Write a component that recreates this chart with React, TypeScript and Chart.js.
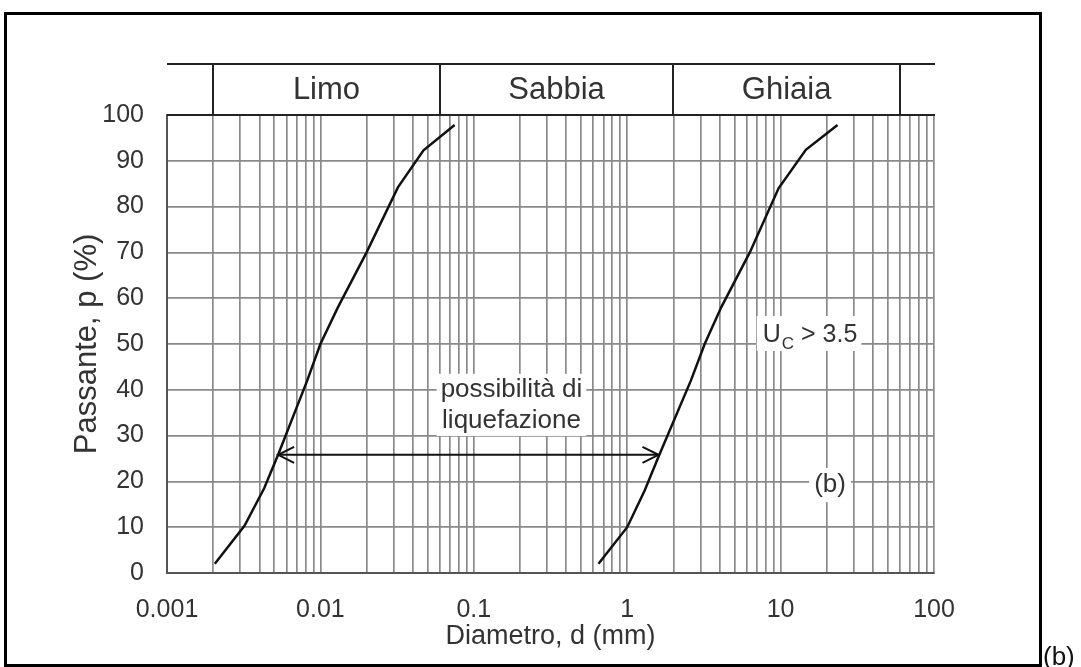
import React, { useEffect, useRef } from 'react';
import { Chart, registerables } from 'chart.js';

Chart.register(...registerables);

const FONT = '"Liberation Sans", Arial, Helvetica, sans-serif';

// ---- axes ----
const xDecades = [0.001, 0.01, 0.1, 1, 10, 100];
const xDecadeLabels = ['0.001', '0.01', '0.1', '1', '10', '100'];
const xMinorSteps = [1, 2, 3, 4, 5, 6, 7, 8, 9];
const yMin = 0;
const yMax = 100;
const yStep = 10;

// ---- grading curves (diameter mm, passing %) ----
const fineDiam = [0.00205, 0.0032, 0.0043, 0.0053, 0.0082, 0.01, 0.013, 0.02, 0.032, 0.047, 0.075];
const finePass = [2, 10.3, 18.5, 25.8, 42, 50, 58, 70, 84.2, 92.3, 97.8];
const coarseDiam = [0.65, 1.0, 1.3, 1.6, 2.6, 3.2, 4.1, 6.3, 9.7, 14.6, 23.5];
const coarsePass = [2, 10, 18, 25.4, 42, 50, 58, 70, 84, 92.4, 97.8];

// ---- liquefaction arrow ----
const arrowDiam = [0.0053, 1.6];
const arrowPass = [25.8, 25.8];

// ---- soil classes band ----
const classBounds = [0.002, 0.06, 2, 60];
const classNames = ['Limo', 'Sabbia', 'Ghiaia'];

// ---- annotations ----
const noteLines = ['possibilità di', 'liquefazione'];
const noteDiam = 0.176;
const notePass = [40, 33.2];
const ucDiam = 7.65;
const ucPass = 52.4;
const bLabelDiam = 21;
const bLabelPass = 19.2;

const gridValues: number[] = [];
xDecades.forEach((d, i) => {
  if (i < xDecades.length - 1) xMinorSteps.forEach((m) => gridValues.push(+(d * m).toPrecision(6)));
  else gridValues.push(d);
});

const toPts = (xs: number[], ys: number[]) => xs.map((x, i) => ({ x, y: ys[i] }));

const decorPlugin = {
  id: 'decor',
  beforeDatasetsDraw(chart: any) {
    const { ctx, scales } = chart;
    const xs = scales.x;
    const ys = scales.y;
    ctx.save();
    // note "possibilità di liquefazione"
    ctx.font = `26px ${FONT}`;
    const nx = xs.getPixelForValue(noteDiam);
    const ny = notePass.map((p) => ys.getPixelForValue(p));
    const nw = Math.max(...noteLines.map((t) => ctx.measureText(t).width));
    ctx.fillStyle = '#fff';
    ctx.fillRect(nx - nw / 2 - 4, ny[0] - 16, nw + 8, ny[ny.length - 1] - ny[0] + 31);
    ctx.fillStyle = '#333';
    ctx.textAlign = 'center';
    ctx.textBaseline = 'middle';
    noteLines.forEach((t, i) => ctx.fillText(t, nx, ny[i]));

    // U_C > 3.5
    const ux = xs.getPixelForValue(ucDiam);
    const uy = ys.getPixelForValue(ucPass);
    ctx.font = `25px ${FONT}`;
    const wU = ctx.measureText('U').width;
    const wRest = ctx.measureText(' > 3.5').width;
    ctx.font = `17px ${FONT}`;
    const wC = ctx.measureText('C').width;
    const total = wU + wC + 1 + wRest;
    ctx.fillStyle = '#fff';
    ctx.fillRect(ux - 6, uy - 17, total + 10, 35);
    ctx.fillStyle = '#333';
    ctx.textAlign = 'left';
    ctx.textBaseline = 'alphabetic';
    ctx.font = `25px ${FONT}`;
    ctx.fillText('U', ux, uy + 9);
    ctx.font = `17px ${FONT}`;
    ctx.fillText('C', ux + wU + 1, uy + 16);
    ctx.font = `25px ${FONT}`;
    ctx.fillText(' > 3.5', ux + wU + wC + 1, uy + 9);

    // (b) inside
    const bx = xs.getPixelForValue(bLabelDiam);
    const by = ys.getPixelForValue(bLabelPass);
    ctx.font = `26px ${FONT}`;
    const bw = ctx.measureText('(b)').width;
    ctx.fillStyle = '#fff';
    ctx.fillRect(bx - bw / 2 - 5, by - 17, bw + 10, 34);
    ctx.fillStyle = '#333';
    ctx.textAlign = 'center';
    ctx.textBaseline = 'middle';
    ctx.fillText('(b)', bx, by);
    ctx.restore();
  },
  afterDatasetsDraw(chart: any) {
    const { ctx, scales, chartArea } = chart;
    const xs = scales.x;
    ctx.save();
    // arrowheads on the arrow dataset
    const meta = chart.getDatasetMeta(2);
    const p0 = meta.data[0];
    const p1 = meta.data[meta.data.length - 1];
    ctx.strokeStyle = '#111';
    ctx.lineWidth = 2;
    const head = (tx: number, ty: number, dir: number) => {
      ctx.beginPath();
      ctx.moveTo(tx + dir * 16, ty - 8);
      ctx.lineTo(tx, ty);
      ctx.lineTo(tx + dir * 16, ty + 8);
      ctx.stroke();
    };
    head(p0.x, p0.y, 1);
    head(p1.x, p1.y, -1);

    // soil classes band
    const left = chartArea.left;
    const right = chartArea.right + 1;
    const top = chartArea.top;
    const bandTop = top - 51;
    ctx.strokeStyle = '#222';
    ctx.lineWidth = 2;
    ctx.beginPath();
    ctx.moveTo(left, bandTop);
    ctx.lineTo(right, bandTop);
    ctx.moveTo(left, top);
    ctx.lineTo(right, top);
    classBounds.forEach((b) => {
      const px = Math.round(xs.getPixelForValue(b));
      ctx.moveTo(px, bandTop);
      ctx.lineTo(px, top);
    });
    ctx.stroke();
    ctx.fillStyle = '#333';
    ctx.font = `31px ${FONT}`;
    ctx.textAlign = 'center';
    ctx.textBaseline = 'middle';
    classNames.forEach((n, i) => {
      const cx = (xs.getPixelForValue(classBounds[i]) + xs.getPixelForValue(classBounds[i + 1])) / 2;
      ctx.fillText(n, cx, (bandTop + top) / 2 + 1);
    });

    // outer frame
    ctx.strokeStyle = '#000';
    ctx.lineWidth = 3;
    ctx.strokeRect(5.5, 13.5, 1035, 652);
    ctx.fillStyle = '#111';
    ctx.font = `26px ${FONT}`;
    ctx.textAlign = 'left';
    ctx.textBaseline = 'alphabetic';
    ctx.fillText('(b)', 1043, 665);
    ctx.restore();
  },
};

export default function App() {
  const ref = useRef<HTMLCanvasElement | null>(null);

  useEffect(() => {
    if (!ref.current) return;
    Chart.defaults.font.family = FONT;
    const chart = new Chart(ref.current, {
      type: 'scatter',
      data: {
        datasets: [
          {
            data: toPts(fineDiam, finePass),
            showLine: true,
            borderColor: '#111',
            borderWidth: 2.5,
            pointRadius: 0,
            tension: 0,
          },
          {
            data: toPts(coarseDiam, coarsePass),
            showLine: true,
            borderColor: '#111',
            borderWidth: 2.5,
            pointRadius: 0,
            tension: 0,
          },
          {
            data: toPts(arrowDiam, arrowPass),
            showLine: true,
            borderColor: '#111',
            borderWidth: 2,
            pointRadius: 0,
            tension: 0,
          },
        ],
      },
      options: {
        responsive: false,
        devicePixelRatio: 1,
        animation: false,
        events: [],
        layout: { padding: { left: 0, top: 115, right: 147, bottom: 0 } },
        plugins: { legend: { display: false }, tooltip: { enabled: false } },
        scales: {
          x: {
            type: 'logarithmic',
            min: xDecades[0],
            max: xDecades[xDecades.length - 1],
            afterBuildTicks: (scale: any) => {
              scale.ticks = gridValues.map((v) => ({ value: v }));
            },
            afterFit: (scale: any) => {
              scale.height = 94;
            },
            ticks: {
              autoSkip: false,
              maxRotation: 0,
              padding: 22,
              color: '#333',
              font: { size: 25 },
              callback: (value: any) => {
                const v = Number(value);
                const i = xDecades.findIndex((d) => Math.abs(Math.log10(v) - Math.log10(d)) < 1e-6);
                return i >= 0 ? xDecadeLabels[i] : '';
              },
            },
            grid: { color: '#8a8a8a', lineWidth: 1.7, drawTicks: false },
            border: { display: true, color: '#555', width: 2 },
            title: {
              display: true,
              text: 'Diametro, d (mm)',
              color: '#333',
              font: { size: 27 },
              padding: { top: 0, bottom: 14 },
            },
          },
          y: {
            type: 'linear',
            min: yMin,
            max: yMax,
            afterFit: (scale: any) => {
              scale.width = 167;
            },
            ticks: {
              stepSize: yStep,
              padding: 23,
              color: '#333',
              font: { size: 25 },
            },
            grid: { color: '#8a8a8a', lineWidth: 1.7, drawTicks: false },
            border: { display: true, color: '#555', width: 2 },
            title: {
              display: true,
              text: 'Passante, p (%)',
              color: '#333',
              font: { size: 31 },
              padding: { top: 69, bottom: 0 },
            },
          },
        },
      },
      plugins: [decorPlugin],
    } as any);
    return () => chart.destroy();
  }, []);

  return (
    <div style={{ position: 'fixed', left: 0, top: 0, width: 1081, height: 667, background: '#fff' }}>
      <canvas ref={ref} width={1081} height={667} style={{ display: 'block' }} />
    </div>
  );
}
